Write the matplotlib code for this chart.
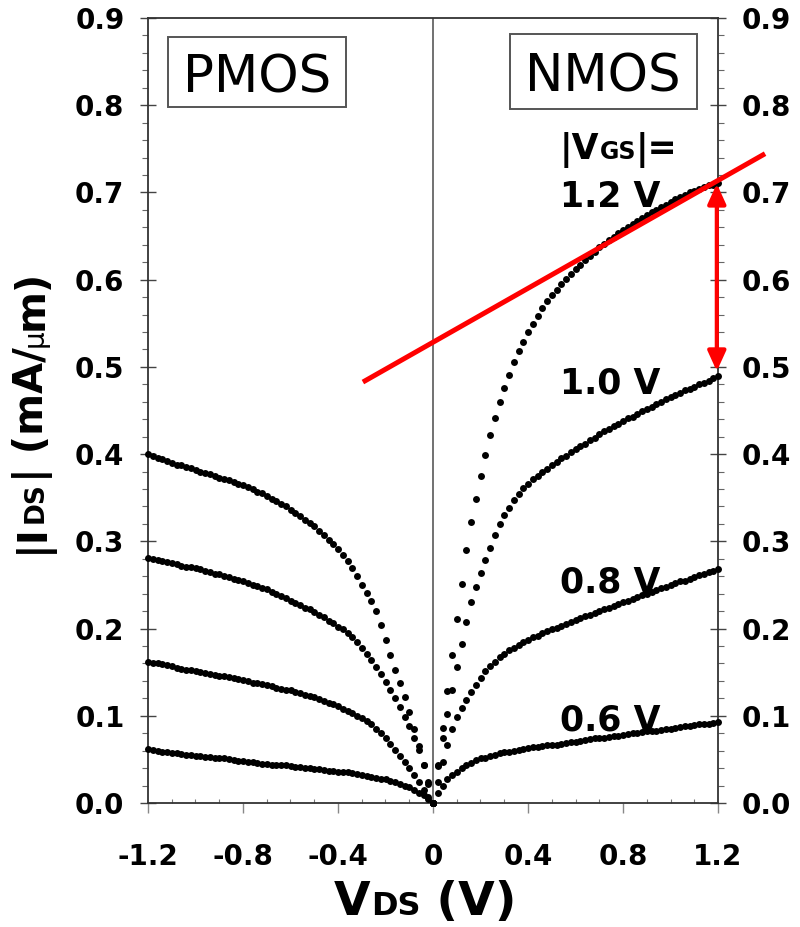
import matplotlib
matplotlib.use('Agg')
import matplotlib.pyplot as plt
import numpy as np
from matplotlib.patches import Rectangle
from matplotlib.ticker import MultipleLocator
from matplotlib.transforms import IdentityTransform

plt.rcParams['font.family'] = ['DejaVu Sans']
plt.rcParams['font.weight'] = 'bold'

# sweep voltages (V), 0.02 V steps
vds_p = np.linspace(-1.2, 0.0, 61)
vds_n = np.linspace(0.0, 1.2, 61)

# PMOS |Ids| (mA/um), from Vds = -1.2 to 0
pmos_12 = [0.400, 0.398, 0.396, 0.394, 0.392, 0.390, 0.388, 0.387, 0.385, 0.384,
           0.382, 0.380, 0.378, 0.377, 0.375, 0.373, 0.371, 0.370, 0.368, 0.366,
           0.364, 0.362, 0.360, 0.357, 0.355, 0.352, 0.349, 0.346, 0.343, 0.340,
           0.336, 0.333, 0.329, 0.325, 0.321, 0.317, 0.312, 0.307, 0.302, 0.297,
           0.291, 0.284, 0.277, 0.269, 0.260, 0.250, 0.241, 0.232, 0.220, 0.204,
           0.187, 0.170, 0.153, 0.137, 0.121, 0.104, 0.085, 0.065, 0.044, 0.022,
           0.000]
pmos_10 = [0.281, 0.280, 0.279, 0.277, 0.276, 0.275, 0.274, 0.272, 0.271, 0.270,
           0.269, 0.268, 0.266, 0.265, 0.263, 0.262, 0.260, 0.259, 0.257, 0.256,
           0.254, 0.252, 0.250, 0.249, 0.247, 0.245, 0.242, 0.240, 0.237, 0.235,
           0.232, 0.229, 0.227, 0.224, 0.222, 0.219, 0.216, 0.213, 0.209, 0.206,
           0.202, 0.199, 0.195, 0.190, 0.184, 0.178, 0.171, 0.164, 0.156, 0.148,
           0.139, 0.130, 0.120, 0.110, 0.099, 0.088, 0.075, 0.061, 0.044, 0.024,
           0.000]
pmos_08 = [0.162, 0.161, 0.160, 0.159, 0.158, 0.157, 0.155, 0.154, 0.153, 0.152,
           0.151, 0.150, 0.149, 0.148, 0.147, 0.146, 0.145, 0.144, 0.143, 0.142,
           0.141, 0.140, 0.138, 0.137, 0.136, 0.135, 0.134, 0.132, 0.131, 0.130,
           0.129, 0.127, 0.126, 0.124, 0.123, 0.121, 0.119, 0.117, 0.115, 0.113,
           0.111, 0.108, 0.106, 0.103, 0.100, 0.097, 0.094, 0.090, 0.085, 0.080,
           0.074, 0.068, 0.061, 0.054, 0.047, 0.040, 0.032, 0.024, 0.015, 0.007,
           0.000]
pmos_06 = [0.062, 0.061, 0.060, 0.059, 0.058, 0.057, 0.057, 0.056, 0.055, 0.055,
           0.054, 0.054, 0.053, 0.053, 0.052, 0.051, 0.051, 0.050, 0.049, 0.048,
           0.048, 0.047, 0.047, 0.046, 0.045, 0.045, 0.044, 0.044, 0.043, 0.043,
           0.042, 0.041, 0.041, 0.040, 0.040, 0.039, 0.039, 0.038, 0.037, 0.037,
           0.036, 0.035, 0.035, 0.034, 0.033, 0.032, 0.031, 0.030, 0.029, 0.028,
           0.027, 0.025, 0.024, 0.022, 0.020, 0.018, 0.015, 0.012, 0.009, 0.005,
           0.000]

# NMOS |Ids| (mA/um), from Vds = 0 to 1.2
nmos_12 = [0.000, 0.043, 0.086, 0.128, 0.170, 0.211, 0.251, 0.290, 0.322, 0.349,
           0.375, 0.399, 0.422, 0.441, 0.460, 0.476, 0.491, 0.506, 0.518, 0.529,
           0.540, 0.549, 0.558, 0.567, 0.575, 0.582, 0.588, 0.595, 0.601, 0.606,
           0.612, 0.617, 0.622, 0.627, 0.632, 0.637, 0.641, 0.645, 0.649, 0.653,
           0.657, 0.660, 0.664, 0.667, 0.671, 0.674, 0.677, 0.680, 0.683, 0.686,
           0.689, 0.692, 0.695, 0.697, 0.700, 0.702, 0.704, 0.706, 0.708, 0.709,
           0.711]
nmos_10 = [0.000, 0.042, 0.074, 0.102, 0.129, 0.156, 0.182, 0.208, 0.230, 0.248,
           0.264, 0.279, 0.292, 0.307, 0.320, 0.330, 0.338, 0.347, 0.354, 0.361,
           0.366, 0.371, 0.375, 0.379, 0.383, 0.387, 0.391, 0.395, 0.398, 0.402,
           0.406, 0.409, 0.412, 0.416, 0.419, 0.423, 0.426, 0.429, 0.432, 0.435,
           0.438, 0.441, 0.443, 0.446, 0.449, 0.452, 0.454, 0.457, 0.460, 0.463,
           0.465, 0.468, 0.470, 0.473, 0.475, 0.477, 0.480, 0.482, 0.484, 0.487,
           0.489]
nmos_08 = [0.000, 0.024, 0.047, 0.067, 0.085, 0.099, 0.109, 0.118, 0.127, 0.135,
           0.143, 0.151, 0.157, 0.162, 0.167, 0.171, 0.175, 0.178, 0.181, 0.184,
           0.187, 0.190, 0.192, 0.195, 0.197, 0.199, 0.201, 0.203, 0.205, 0.207,
           0.210, 0.212, 0.214, 0.216, 0.218, 0.220, 0.222, 0.224, 0.226, 0.228,
           0.230, 0.232, 0.234, 0.236, 0.238, 0.240, 0.242, 0.244, 0.246, 0.248,
           0.250, 0.252, 0.254, 0.255, 0.257, 0.259, 0.261, 0.263, 0.265, 0.266,
           0.268]
nmos_06 = [0.000, 0.012, 0.020, 0.027, 0.032, 0.036, 0.040, 0.044, 0.046, 0.049,
           0.051, 0.052, 0.054, 0.055, 0.057, 0.058, 0.059, 0.060, 0.061, 0.062,
           0.063, 0.064, 0.064, 0.065, 0.066, 0.066, 0.067, 0.068, 0.069, 0.070,
           0.070, 0.071, 0.072, 0.073, 0.074, 0.074, 0.075, 0.076, 0.077, 0.077,
           0.078, 0.079, 0.080, 0.080, 0.081, 0.082, 0.083, 0.083, 0.084, 0.085,
           0.085, 0.086, 0.087, 0.088, 0.088, 0.089, 0.090, 0.091, 0.091, 0.092,
           0.093]

vgs_labels = ['1.2 V', '1.0 V', '0.8 V', '0.6 V']
label_y = [0.683, 0.470, 0.241, 0.083]

xticks = [-1.2, -0.8, -0.4, 0, 0.4, 0.8, 1.2]
xticklabels = ['-1.2', '-0.8', '-0.4', '0', '0.4', '0.8', '1.2']
yticks = [0.0, 0.1, 0.2, 0.3, 0.4, 0.5, 0.6, 0.7, 0.8, 0.9]

# red tangent line and arrow (data coords)
tangent_x = [-0.286, 1.389]
tangent_y = [0.484, 0.743]
arrow_x = 1.195
arrow_y = [0.495, 0.710]

fig = plt.figure(figsize=(8, 9.27), dpi=100)
ax = fig.add_axes([0.185, 0.1338, 0.7125, 0.8468])

ax.axvline(0, color='#666666', lw=1.3, zorder=1)

for ys in [pmos_12, pmos_10, pmos_08, pmos_06]:
    ax.plot(vds_p, ys, 'o', color='black', ms=5, mew=0, clip_on=False, zorder=3)
for ys in [nmos_12, nmos_10, nmos_08, nmos_06]:
    ax.plot(vds_n, ys, 'o', color='black', ms=5, mew=0, clip_on=False, zorder=3)

ax.plot(tangent_x, tangent_y, color='red', lw=3.6, clip_on=False, zorder=5)
ax.annotate('', xy=(arrow_x, arrow_y[1]), xytext=(arrow_x, arrow_y[0]),
            arrowprops=dict(arrowstyle='<|-|>,head_length=0.55,head_width=0.25',
                            color='red', lw=3, mutation_scale=22,
                            shrinkA=0, shrinkB=0),
            annotation_clip=False, zorder=5)

ax.set_xlim(-1.2, 1.2)
ax.set_ylim(0, 0.9)
ax.set_xticks(xticks)
ax.set_xticklabels(xticklabels)
ax.set_yticks(yticks)
ax.set_yticklabels([f'{v:.1f}' for v in yticks])
ax.xaxis.set_minor_locator(MultipleLocator(0.1))
ax.yaxis.set_minor_locator(MultipleLocator(0.02))

ax.tick_params(axis='y', which='major', direction='inout', length=12, width=1,
               left=True, right=True, labelleft=True, labelright=True,
               pad=11, labelsize=20, color='#444444')
ax.tick_params(axis='y', which='minor', direction='out', length=4.5, width=0.8,
               left=True, right=True, color='#666666')
ax.tick_params(axis='x', which='major', direction='out', length=7, width=1,
               pad=22, labelsize=20, color='#888888')
ax.tick_params(axis='x', which='minor', direction='in', length=3, width=0.8,
               color='#777777')
for sp in ax.spines.values():
    sp.set_color('#333333')
    sp.set_linewidth(1.3)

# PMOS / NMOS boxes
ax.add_patch(Rectangle((-1.116, 0.798), 0.75, 0.080, fill=False,
                       ec='#555555', lw=1.4, zorder=4))
ax.text(-0.741, 0.814, 'PMOS', ha='center', va='baseline', fontsize=37,
        fontweight='normal', zorder=4)
ax.add_patch(Rectangle((0.324, 0.796), 0.786, 0.086, fill=False,
                       ec='#555555', lw=1.4, zorder=4))
ax.text(0.717, 0.816, 'NMOS', ha='center', va='baseline', fontsize=37,
        fontweight='normal', zorder=4)

for lab, yy in zip(vgs_labels, label_y):
    ax.text(0.535, yy, lab, ha='left', va='baseline', fontsize=25, zorder=4)

fig.canvas.draw()
renderer = fig.canvas.get_renderer()


def pieces(x, y, parts, rotation=0):
    # draw text pieces one after another along the baseline (pixel coords)
    for s, size, weight in parts:
        t = fig.text(x, y, s, fontsize=size, fontweight=weight,
                     rotation=rotation, rotation_mode='anchor',
                     ha='left', va='baseline', transform=IdentityTransform())
        bb = t.get_window_extent(renderer)
        if rotation == 0:
            x += bb.width
        else:
            y += bb.height


# |VGS|= label
px, py = ax.transData.transform((0.535, 0.738))
pieces(px, py, [('|V', 25, 'bold'), ('GS', 17, 'bold'), ('|=', 25, 'bold')])

# x label
pieces(334, 927 - 915, [('V', 34, 'bold'), ('DS', 23, 'bold'),
                        (' (V)', 34, 'bold')])

# y label (rotated)
pieces(43, 927 - 553, [('|I', 29, 'bold'), ('DS', 19, 'bold'),
                       ('| (mA/', 29, 'bold'), ('\u03bc', 20, 'normal'),
                       ('m)', 29, 'bold')], rotation=90)

fig.savefig('out.png', dpi=100)
